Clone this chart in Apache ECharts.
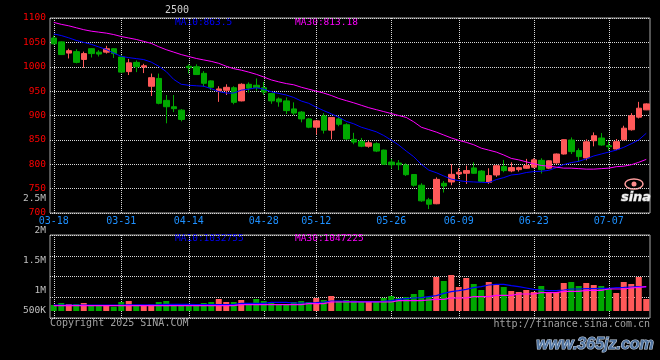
<!DOCTYPE html>
<html><head><meta charset="utf-8">
<script src="https://cdn.jsdelivr.net/npm/echarts@6/dist/echarts.min.js"></script>
<style>html,body{margin:0;padding:0;background:#000;}#c{width:660px;height:360px;}</style>
</head><body><div id="c"></div>
<script>
var dates = ['03-18','03-19','03-20','03-21','03-24','03-25','03-26','03-27','03-28','03-31',
'04-01','04-02','04-03','04-07','04-08','04-09','04-10','04-11',
'04-14','04-15','04-16','04-17','04-18','04-21','04-22','04-23','04-24','04-25',
'04-28','04-29','04-30','05-06','05-07','05-08','05-09',
'05-12','05-13','05-14','05-15','05-16','05-19','05-20','05-21','05-22','05-23',
'05-26','05-27','05-28','05-29','05-30','06-03','06-04','06-05','06-06',
'06-09','06-10','06-11','06-12','06-13','06-16','06-17','06-18','06-19','06-20',
'06-23','06-24','06-25','06-26','06-27','06-30','07-01','07-02','07-03','07-04',
'07-07','07-08','07-09','07-10','07-11','07-14'];
var labelDates = ['03-18','03-31','04-14','04-28','05-12','05-26','06-09','06-23','07-07'];

var opens = [1059,1051,1028,1031,1015,1037,1030,1030,1037,1020,
990,1009,999.5,960,976,931,918,911,1001,1000,
986.5,971,950.5,951.7,957,930,964,962,957,945,
934,930,913.5,907,893,876,899,870,893,881,
851,847,837,842,829,804.5,802.5,798.4,779,757,
727,719,761,763.6,780,781.5,792.5,786,763,778,
795.2,786.3,789,791.8,794,808,792,802.7,821,849.7,
828,813,848.3,853.8,838,831.3,850.4,870.8,896.6,911.6];
var closes = [1047,1025,1033,1009,1027,1027,1026,1037,1027,989,
1008,1000,1002,977.6,925,918,914,892,998,984,
966,958,954.5,957.8,927,964,956,957,948,930,
928,910,905,893,876,889,870,896,882,852,
845.5,837,844,827,800,799,799,778.6,757,725,
718,769,755.4,779.3,783.6,787,781.5,765,776.7,797,
787,793.2,793,797.3,809,789,807,821,850.4,825.9,
815.7,846,858.5,839.5,836,846.3,874,899.3,915,923.8];
var lows = [1046,1024,1017,1007,998,1019,1021,1027,1018,988,
983,989,987,940,923,884,907,888,986,983,
959,952,928,942,923,929,947,951,942,924,
918,903,901,886,874,861,863,851,878,850,
841,835,834,825,799,791,788,776,754,723,
708,718,742,757,770,759.6,780,764,759.6,774,
783.6,783.6,785,790.4,792,781,790,801,820,821,
805.5,808,836.8,838,828,829,849,869,894,911];
var highs = [1064,1052,1037,1036,1031,1038,1034,1043,1038,1024,
1016,1013,1006,986,986,942,942,913,1005,1005,
991,972,960,964,960,966,968,976,969,946,
937,937,927,909,895,891,905,897,898,884,
864.5,854,848,845,830,811,808.6,801.8,780,761,
731,773,765.6,800,791.8,797.3,804,788,791.8,798,
808.9,804,795,811,812,812.3,808,822,851,855,
832.7,851,865.3,864,848,851.7,879,904.8,928,925];

var ma10 = [1067.3,1064,1059.3,1054,1050,1046,1040.7,1035.3,1028,1021.3,
1018.7,1016.7,1014.7,1009.5,1001,990,974,964,962,961,
960,955,949,946,946,952,954,957,954,948.6,
945.3,942,937,929.7,925,917,910,903.4,896.6,888,
883,876,871.4,866.6,859,849.5,839.3,827,815.4,800,
788,782.7,776,769.5,766.4,764.4,763.7,763,762.3,768.5,
772.6,778,779.5,783,785,785.6,787.5,793,799.4,803.4,
806,811,817,821,825,829,834.7,842,850,863.5];
var ma30 = [1091,1087,1084,1080,1076,1073,1071,1069,1066,1062,
1059,1056,1052,1048,1041,1035,1030,1025,1021,1017,
1014,1011,1007,1001,996,993,989,984.5,979,973,
969,965.5,963,958,954,950,946,941,935,930.5,
926,921,916,912,908,904,900,896,887,876,
871,866,860,854,849,845,840,833,829,825,
819,812,809,805,801,797.5,796,794,792,792,
791,790,790,791,792,795,796,799,804,810];

var volumes = [258000,344000,301000,301000,344000,244000,244000,244000,186000,387000,
430000,244000,244000,272000,387000,430000,258000,258000,244000,244000,
344000,387000,516000,387000,387000,473000,258000,516000,430000,358000,
301000,301000,387000,430000,387000,559000,473000,645000,430000,473000,
444000,401000,401000,401000,559000,645000,559000,602000,731000,903000,
602000,1462000,1290000,1548000,1032000,1419000,1161000,903000,1247000,1118000,
1032000,860000,817000,903000,817000,1075000,817000,817000,1204000,1247000,
1075000,1204000,1118000,1075000,946000,774000,1247000,1161000,1462000,516000];
var volMa10 = [258000,258000,258000,258000,258000,258000,258000,258000,258000,258000,
265000,265000,265000,265000,272000,287000,287000,287000,287000,272000,
272000,272000,272000,272000,272000,330000,330000,330000,330000,373000,
373000,373000,344000,344000,344000,358000,387000,430000,430000,415000,
401000,401000,401000,401000,415000,444000,502000,530000,559000,573000,
616000,659000,760000,831000,874000,931000,1003000,1046000,1118000,1146000,
1146000,1089000,1046000,989000,931000,903000,874000,874000,903000,946000,
946000,960000,960000,974000,974000,1003000,1017000,1032000,1046000,1033000];
var volMa30 = [229000,229000,229000,229000,229000,229000,229000,229000,229000,229000,
229000,229000,229000,229000,229000,229000,229000,229000,229000,229000,
229000,229000,229000,229000,229000,272000,272000,272000,272000,272000,
272000,272000,272000,272000,315000,315000,315000,387000,387000,387000,
387000,387000,387000,387000,387000,387000,444000,444000,444000,444000,
473000,502000,502000,559000,559000,559000,616000,616000,616000,674000,
674000,674000,731000,731000,731000,788000,788000,788000,846000,846000,
846000,888000,888000,888000,946000,946000,946000,990000,1020000,1047000];

var priceTicks = [700,750,800,850,900,950,1000,1050,1100];
var volTickLabels = ['2.5M','2M','1.5M','1M','500K'];
var titleText = '2500';
var maPriceLabels = ['MA10:863.5','MA30:813.18'];
var maVolLabels = ['MA10:1032755','MA30:1047225'];
var footLeft = 'Copyright 2025 SINA.COM';
var footRight = 'http://finance.sina.com.cn';
var watermark = 'www.365jz.com';

var RED = '#ff5959', GREEN = '#00a800', MONO = '"DejaVu Sans Mono", "Liberation Mono", monospace';
var kdata = dates.map(function(d,i){ return [opens[i], closes[i], lows[i], highs[i]]; });
var volData = volumes.map(function(v,i){
  return {value: v, itemStyle: {color: closes[i] >= opens[i] ? RED : GREEN}};
});
function showDate(idx){ return labelDates.indexOf(dates[idx]) >= 0; }
var dotted = {color: '#d8d8d8', width: 1, type: [1, 1]};

var chart = echarts.init(document.getElementById('c'), null, {renderer: 'canvas'});
var PPX = 43000; // volume units per pixel
chart.setOption({
  backgroundColor: '#000000',
  animation: false,
  grid: [
    {left: 50, right: 10, top: 18, height: 195, show: true, borderColor: '#a8a8a8', borderWidth: 1},
    {left: 50, right: 10, top: 235, height: 83, show: true, borderColor: '#a8a8a8', borderWidth: 1}
  ],
  xAxis: [
    {type: 'category', gridIndex: 0, data: dates, boundaryGap: true,
     axisLine: {show: false}, axisTick: {show: false, alignWithLabel: true},
     axisLabel: {interval: function(i){ return showDate(i); }, color: '#1e90ff', fontFamily: MONO, fontSize: 10, margin: 3},
     splitLine: {show: true, alignWithLabel: true, interval: function(i){ return showDate(i); }, lineStyle: dotted}},
    {type: 'category', gridIndex: 1, data: dates, boundaryGap: true,
     axisLine: {show: false}, axisTick: {show: false, alignWithLabel: true}, axisLabel: {show: false},
     splitLine: {show: true, alignWithLabel: true, interval: function(i){ return showDate(i); }, lineStyle: dotted}}
  ],
  yAxis: [
    {type: 'value', gridIndex: 0, min: priceTicks[0], max: priceTicks[priceTicks.length-1], interval: 50,
     axisLine: {show: false}, axisTick: {show: false},
     axisLabel: {color: '#ff0000', fontFamily: MONO, fontSize: 9.5, margin: 4,
                 formatter: function(v){ return String(v); }},
     splitLine: {show: true, lineStyle: dotted}},
    {type: 'value', gridIndex: 1, min: -7 * PPX, max: 76 * PPX, show: false,
     splitLine: {show: false}},
    {type: 'value', gridIndex: 1, min: 0, max: 4, interval: 1, position: 'right',
     axisLine: {show: false}, axisTick: {show: false}, axisLabel: {show: false},
     splitLine: {show: true, lineStyle: dotted}}
  ],
  series: [
    {type: 'candlestick', name: 'K', xAxisIndex: 0, yAxisIndex: 0, data: kdata, barWidth: 6,
     itemStyle: {color: RED, color0: GREEN, borderColor: RED, borderColor0: GREEN, borderWidth: 1}},
    {type: 'line', name: 'MA10', xAxisIndex: 0, yAxisIndex: 0, data: ma10, showSymbol: false, symbol: 'none',
     lineStyle: {color: '#0000ff', width: 1}},
    {type: 'line', name: 'MA30', xAxisIndex: 0, yAxisIndex: 0, data: ma30, showSymbol: false, symbol: 'none',
     lineStyle: {color: '#ff00ff', width: 1}},
    {type: 'bar', name: 'VOL', xAxisIndex: 1, yAxisIndex: 1, data: volData, barWidth: 6},
    {type: 'line', name: 'VMA10', xAxisIndex: 1, yAxisIndex: 1, data: volMa10, showSymbol: false, symbol: 'none',
     lineStyle: {color: '#0000ff', width: 1.2}},
    {type: 'line', name: 'VMA30', xAxisIndex: 1, yAxisIndex: 1, data: volMa30, showSymbol: false, symbol: 'none',
     lineStyle: {color: '#ff00ff', width: 1.2}}
  ],
  graphic: [
    {type: 'text', x: 177, y: 10, style: {text: titleText, fill: '#cfcfcf', font: '10px ' + MONO, align: 'center', verticalAlign: 'middle'}},
    {type: 'text', x: 175, y: 23, style: {text: maPriceLabels[0], fill: '#0000ff', font: '9.5px ' + MONO, align: 'left', verticalAlign: 'middle'}},
    {type: 'text', x: 295, y: 23, style: {text: maPriceLabels[1], fill: '#ff00ff', font: '9.5px ' + MONO, align: 'left', verticalAlign: 'middle'}},
    {type: 'text', x: 175, y: 238.5, style: {text: maVolLabels[0], fill: '#0000ff', font: '9.5px ' + MONO, align: 'left', verticalAlign: 'middle'}},
    {type: 'text', x: 295, y: 238.5, style: {text: maVolLabels[1], fill: '#ff00ff', font: '9.5px ' + MONO, align: 'left', verticalAlign: 'middle'}},
    {type: 'text', x: 46, y: 199, style: {text: volTickLabels[0], fill: '#c0c0c0', font: '9.5px ' + MONO, align: 'right', verticalAlign: 'middle'}},
    {type: 'text', x: 46, y: 231, style: {text: volTickLabels[1], fill: '#c0c0c0', font: '9.5px ' + MONO, align: 'right', verticalAlign: 'middle'}},
    {type: 'text', x: 46, y: 260.7, style: {text: volTickLabels[2], fill: '#c0c0c0', font: '9.5px ' + MONO, align: 'right', verticalAlign: 'middle'}},
    {type: 'text', x: 46, y: 290.3, style: {text: volTickLabels[3], fill: '#c0c0c0', font: '9.5px ' + MONO, align: 'right', verticalAlign: 'middle'}},
    {type: 'text', x: 46, y: 310.3, style: {text: volTickLabels[4], fill: '#c0c0c0', font: '9.5px ' + MONO, align: 'right', verticalAlign: 'middle'}},
    {type: 'text', x: 50, y: 323.5, style: {text: footLeft, fill: '#a0a0a0', font: '10px ' + MONO, align: 'left', verticalAlign: 'middle'}},
    {type: 'text', x: 650, y: 324, style: {text: footRight, fill: '#a0a0a0', font: '10px ' + MONO, align: 'right', verticalAlign: 'middle'}},
    {type: 'text', x: 595, y: 345, style: {text: watermark, fill: '#4f73a0', stroke: '#c8d4e4', lineWidth: 1.2, font: 'bold italic 16px "Liberation Sans", Arial, sans-serif', align: 'center', verticalAlign: 'middle'}},
    {type: 'ellipse', shape: {cx: 634, cy: 184, rx: 9, ry: 5}, style: {fill: 'none', stroke: '#ff9d9d', lineWidth: 1.5}},
    {type: 'circle', shape: {cx: 634, cy: 184, r: 2.5}, style: {fill: '#ff8c8c'}},
    {type: 'text', x: 636, y: 198, style: {text: 'sina', fill: '#f2f2f2', stroke: '#9a9a9a', lineWidth: 0.8, font: 'bold italic 13px "DejaVu Sans", sans-serif', align: 'center', verticalAlign: 'middle'}}
  ]
});
</script></body></html>
